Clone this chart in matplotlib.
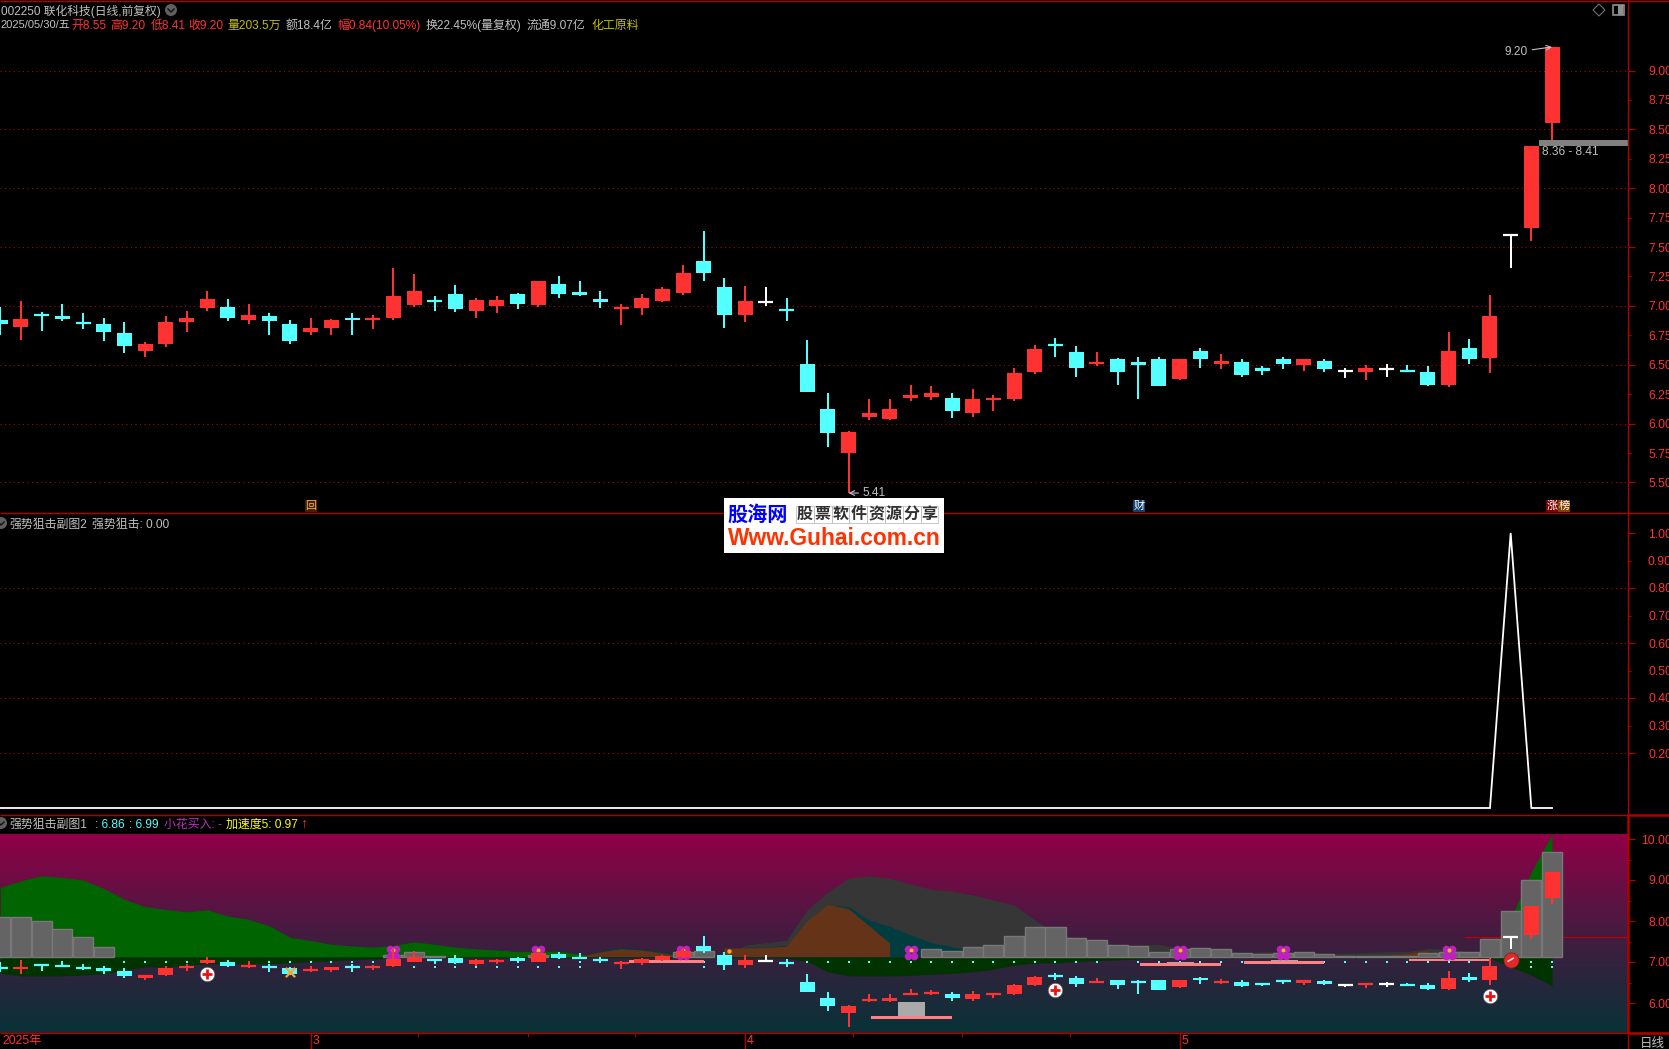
import numpy as np
import matplotlib
matplotlib.use("Agg")
import matplotlib.pyplot as plt
from matplotlib.lines import Line2D
from matplotlib.patches import Rectangle, Polygon, Ellipse

plt.rcParams['font.family'] = ['Liberation Sans', 'Noto Sans CJK SC', 'DejaVu Sans']

# ---------- data ----------
opens = [6.88,6.82,6.93,6.91,6.86,6.85,6.77,6.62,6.68,6.86,6.98,6.99,6.88,6.91,6.85,6.78,6.81,6.90,6.88,6.90,
         7.01,7.05,7.10,6.96,7.00,7.10,7.01,7.19,7.12,7.06,6.98,6.98,7.04,7.11,7.38,7.16,6.92,7.035,6.97,6.51,
         6.12,5.75,6.06,6.04,6.22,6.23,6.22,6.09,6.20,6.21,6.44,6.68,6.61,6.51,6.55,6.52,6.55,6.38,6.62,6.51,
         6.52,6.47,6.55,6.50,6.53,6.445,6.44,6.46,6.45,6.44,6.33,6.64,6.56,7.60,7.66,8.55]
closes = [6.85,6.89,6.91,6.89,6.85,6.78,6.66,6.68,6.86,6.90,7.06,6.90,6.92,6.87,6.70,6.81,6.88,6.88,6.89,7.08,
          7.13,7.03,6.97,7.05,7.05,7.02,7.21,7.10,7.09,7.03,6.99,7.07,7.14,7.28,7.28,6.92,7.04,7.035,6.96,6.27,
          5.92,5.93,6.09,6.12,6.24,6.26,6.11,6.21,6.22,6.43,6.63,6.66,6.47,6.52,6.44,6.50,6.32,6.55,6.55,6.53,
          6.41,6.45,6.51,6.55,6.46,6.445,6.47,6.46,6.44,6.33,6.62,6.55,6.91,7.60,8.36,9.20]
highs = [6.99,7.04,6.95,7.02,6.94,6.90,6.86,6.69,6.91,6.96,7.13,7.06,7.02,6.94,6.88,6.90,6.89,6.94,6.92,7.32,
         7.27,7.08,7.18,7.07,7.08,7.11,7.21,7.25,7.21,7.13,7.02,7.10,7.16,7.35,7.64,7.24,7.17,7.16,7.07,6.71,
         6.26,5.94,6.21,6.21,6.33,6.32,6.26,6.29,6.24,6.47,6.67,6.73,6.66,6.61,6.56,6.57,6.57,6.55,6.64,6.59,
         6.55,6.49,6.57,6.55,6.55,6.47,6.50,6.51,6.50,6.49,6.78,6.72,7.09,7.60,8.36,9.20]
lows = [6.75,6.71,6.79,6.87,6.80,6.70,6.60,6.57,6.65,6.78,6.96,6.87,6.85,6.75,6.68,6.75,6.75,6.75,6.80,6.88,
        6.99,6.96,6.95,6.90,6.94,6.97,6.99,7.07,7.08,6.98,6.84,6.92,7.03,7.09,7.21,6.81,6.86,7.00,6.87,6.27,
        5.80,5.41,6.03,6.03,6.19,6.20,6.05,6.06,6.11,6.19,6.42,6.57,6.40,6.49,6.33,6.21,6.32,6.37,6.47,6.46,
        6.40,6.41,6.46,6.45,6.44,6.39,6.37,6.40,6.44,6.32,6.31,6.51,6.43,7.32,7.55,8.41]

signal = [0.0]*73 + [1.0, 0.0, 0.0]

nan = float('nan')
# indicator heights above (+) / below the sub-chart zero level
green_h = [1.70,1.86,1.98,1.94,1.88,1.67,1.41,1.23,1.16,1.10,1.15,1.00,0.92,0.76,0.48,0.40,0.31,0.27,0.24,0.28,
           0.37,0.31,0.24,0.20,0.17,0.13,0.14,0.14,0.07,0.0] + [0.0]*42 + [0.05,0.93,2.08,3.0]
dark_h = [nan]*35 + [0.0,0.29,0.35,0.41,1.15,1.59,1.92,1.98,1.92,1.78,1.65,1.61,1.51,1.39,1.27,0.90,0.58,0.46,0.37,
          0.29,0.29,0.31,0.21,0.21,0.20,0.09,0.13,0.13,0.11,0.09,0.09,0.11,0.13,0.13,0.21,0.19,0.13,0.09,0.0,nan,nan]
teal_h = [nan]*28 + [0.0,0.15,0.24,0.19,0.13,0.04,0.0,0.0,0.24,0.24,0.28,0.86,1.27,1.23,0.90,0.74,0.54,0.35,0.25,
          0.17,0.09,0.0] + [nan]*26
brown_h = [nan]*28 + [0.0,0.11,0.19,0.16,0.09,0.0,nan,0.21,0.21,0.22,0.25,0.86,1.27,1.17,0.76,0.33] + [nan]*22 + \
          [0.0,0.02,0.07,0.15] + [nan]*6
under_h = [0.40,0.46,0.46,0.46,0.44,0.40,0.32,0.24,0.24,0.20,0.17,0.16,0.17,0.16,0.14,0.11,0.09,0.07,0.05,0.03] + \
          [0.02]*18 + [0.03,0.11,0.36,0.46,0.46,0.46,0.45,0.42,0.40,0.36,0.30,0.20,0.15,0.14,0.11,0.09,0.07,0.05] + \
          [0.02]*16 + [0.03,0.24,0.44,0.70]
vol_h = [0.98,0.98,0.88,0.68,0.49,0.24] + [nan]*13 + [0.05,0.12,0.02] + [nan]*4 + [0.05] + [nan]*6 + [0.11,0.15] + \
        [nan]*10 + [0.20,0.15,0.24,0.29,0.51,0.73,0.73,0.46,0.41,0.29,0.27,0.11,0.19,0.22,0.20,0.09,0.07,0.09,0.11,
                    0.07,0.03,0.02,0.02,0.03,0.09,0.11,0.11,0.44,1.12,1.88,2.56]
dots_a = list(range(6, 19)) + [28, 34] + list(range(39, 54)) + list(range(55, 72)) + [74, 75]
dots_b = list(range(20, 29)) + [34, 74, 75, 73]

# resistance-like ranges: start, end, pink level, gray top
range_start = [30.4, 42.1, 55.1, 60.1, 68.1]
range_end = [34.0, 46.0, 59.0, 64.0, 72.0]
range_level = [7.01, 5.65, 6.93, 6.98, 7.05]
range_top = [7.05, 6.02, 7.00, 7.06, 7.07]
flower_idx = [19, 26, 33, 44, 57, 62, 70]
plus_idx = [10, 51, 72]
plus_val = [6.71, 6.32, 6.17]

price_ticks = [9.00,8.75,8.50,8.25,8.00,7.75,7.50,7.25,7.00,6.75,6.50,6.25,6.00,5.75,5.50]
price_grid = [9.0,8.5,8.0,7.5,7.0,6.5,6.0,5.5]
sig_ticks = [1.0,0.9,0.8,0.7,0.6,0.5,0.4,0.3,0.2]
sig_grid = [0.8,0.6,0.4,0.2]
sub_ticks = [10.0,9.0,8.0,7.0,6.0]
sub_minor = [9.5,8.5,7.5,6.5]
month_idx = [0, 15, 36, 57]
month_lab = ['2025年', '3', '4', '5']
week_idx = [20.2, 25.5, 30.7, 41.2, 46.5, 51.7]

# ---------- style ----------
W, H = 1669, 1049
RED, CYAN = '#ff3232', '#54ffff'
LINE = '#b00000'
GRID = '#c00000'
GRAY = '#c0c0c0'
STEP = 20.69
fig = plt.figure(figsize=(W/100, H/100), dpi=100, facecolor='black')
AX_R = 1627.5

def make_ax(top, bottom):
    ax = fig.add_axes([0, 1-bottom/H, AX_R/W, (bottom-top)/H], facecolor='black')
    ax.set_xlim(-0.3/STEP, (AX_R-0.3)/STEP)
    for s in ax.spines.values():
        s.set_visible(False)
    ax.xaxis.set_visible(False)
    ax.yaxis.tick_right()
    ax.tick_params(axis='y', which='major', length=5, width=0.8, color=LINE, labelcolor=RED,
                   labelsize=8.8, pad=27)
    ax.tick_params(axis='y', which='minor', length=1.8, width=0.8, color=LINE)
    return ax

def set_labels(ax, ticks, major):
    ax.set_yticks(ticks)
    ax.set_yticklabels([f'{t:.2f}' for t in ticks])
    for t in ax.get_yticklabels():
        t.set_ha('right')
    for tick, v in zip(ax.yaxis.get_major_ticks(), ticks):
        if v not in major:
            tick.tick2line.set_markersize(1.8)

def candles(ax, z=10, thin=0.02):
    o, c, h, l = map(np.array, (opens, closes, highs, lows))
    x = np.arange(len(o))
    cols = np.array([RED if b > a else (CYAN if b < a else '#ffffff') for a, b in zip(o, c)])
    ax.vlines(x, l, h, colors=cols, linewidth=1.44, zorder=z)
    ax.bar(x, np.abs(c-o), bottom=np.minimum(o, c), width=15/STEP, color=cols, linewidth=0, zorder=z+1,
           antialiased=False)
    small = np.abs(c-o) < thin
    mid = (o+c)/2
    ax.hlines(mid[small], x[small]-7.5/STEP, x[small]+7.5/STEP, colors=cols[small], linewidth=1.6, zorder=z+1)

# ---------- main price panel ----------
ax1 = make_ax(0, 513)
ax1.set_ylim(9 - (513-70.5)/117.7, 9 + 70.5/117.7)
set_labels(ax1, price_ticks, price_grid)
ax1.hlines(price_grid, *ax1.get_xlim(), colors=GRID, linewidth=0.72, linestyle=(0, (1, 3.5)), zorder=1)
candles(ax1)
ax1.add_patch(Rectangle((1539/STEP, 8.36), (AX_R-1539)/STEP, 0.05, color='#808080', lw=0, zorder=12))
ax1.text(1542/STEP, 8.305, '8.36 - 8.41', color=GRAY, fontsize=8.6, va='center', zorder=13)
ax1.annotate('9.20', xy=(75, 9.20), xytext=(-24, -5), textcoords='offset pixels', color=GRAY, fontsize=8.6,
             ha='right', va='center', zorder=13,
             arrowprops=dict(arrowstyle='->', color=GRAY, lw=0.8, shrinkA=1, shrinkB=0))
ax1.annotate('5.41', xy=(41, 5.41), xytext=(14, 0), textcoords='offset pixels', color=GRAY, fontsize=8.6,
             ha='left', va='center', zorder=13,
             arrowprops=dict(arrowstyle='->', color=GRAY, lw=0.8, shrinkA=1, shrinkB=0))

# ---------- signal panel ----------
ax2 = make_ax(513, 815)
ax2.set_ylim(-7/275, (808-513)/275)
set_labels(ax2, sig_ticks, sig_grid + [1.0])
ax2.hlines(sig_grid, *ax2.get_xlim(), colors=GRID, linewidth=0.72, linestyle=(0, (1, 3.5)), zorder=1)
ax2.plot(np.arange(len(signal)), signal, color='white', lw=1.3, zorder=5, solid_joinstyle='miter')

# ---------- indicator panel ----------
ax3 = make_ax(834, 1033)
ax3.set_ylim(7 + (962-1033)/41, 7 + (962-834)/41)
xl = ax3.get_xlim()
set_labels(ax3, sub_ticks, sub_ticks)
ax3.set_yticks(sub_minor, minor=True)
stops = np.array([[145, 0, 72], [75, 25, 65], [42, 37, 60], [8, 50, 55]]) / 255
fr = np.linspace(0, 1, 200)
grad = np.stack([np.interp(fr, [0, 0.45, 0.72, 1], stops[:, k]) for k in range(3)], axis=1)[:, None, :]
ax3.imshow(grad, extent=[xl[0], xl[1], ax3.get_ylim()[0], ax3.get_ylim()[1]], aspect='auto', zorder=0)
ax3.set_xlim(xl)
base = 7.122
xs = np.arange(76)
ax3.fill_between(xs, base, base+np.array(green_h), color='#006400', lw=0, zorder=1)
ax3.fill_between(xs, base, base+np.array(dark_h), color='#363636', lw=0, zorder=2)
ax3.fill_between(xs, base, base+np.array(teal_h), color='#003c40', lw=0, zorder=3)
ax3.fill_between(xs, base, base+np.array(brown_h), color='#653318', lw=0, zorder=4)
ax3.fill_between(xs, base, base-np.array(under_h), color='#003300', lw=0, zorder=4)
ax3.hlines(7.60, 70.8, xl[1], color='#c00000', lw=0.8, zorder=4.5)
ax3.bar(xs, np.array(vol_h), bottom=base, width=0.97, color='#646464', edgecolor='#787878', linewidth=1.0, zorder=5)
ax3.scatter(dots_a, [base-0.13]*len(dots_a), s=2, marker='s', color=CYAN, lw=0, zorder=6)
ax3.scatter(dots_b, [base-0.25]*len(dots_b), s=2, marker='s', color=CYAN, lw=0, zorder=6)
for a, b, lev, top in zip(range_start, range_end, range_level, range_top):
    th = 1.4*2/41
    third = (b-a)/3
    ax3.add_patch(Rectangle((a+third, lev), third, top-lev, color='#aaaaaa', lw=0, zorder=6))
    ax3.add_patch(Rectangle((a, lev-th/2), b-a, th, color='#ff8080', lw=0, zorder=6))
dx, dy = 3/STEP, 3.2/41
fy = 7.236
for i in flower_idx:
    ax3.scatter([i-dx, i+dx, i-dx, i+dx], [fy+dy, fy+dy, fy-dy, fy-dy], s=30, color='#c020c0', lw=0, zorder=7)
    ax3.scatter([i], [fy+0.05], s=8, color='#ffc000', lw=0, zorder=7.5)
candles(ax3, z=8, thin=0.07)
ax3.scatter(plus_idx, plus_val, s=110, color='white', edgecolor='#505050', lw=0.5, zorder=12)
ax3.scatter(plus_idx, plus_val, s=55, marker='+', color='#f01010', lw=2, zorder=13)
ax3.scatter([73], [7.05], s=120, color='#e02828', edgecolor='#702020', lw=0.5, zorder=12)
ax3.plot([72.88, 73.12], [7.02, 7.09], color='#ffd0d0', lw=1.2, zorder=13)
ax3.scatter([14], [6.76], s=45, marker='x', color='#ffa030', lw=1.6, zorder=9)
ax3.scatter([35.2], [7.26], s=10, color='#ffa030', lw=0, zorder=12)

for i, lab in zip(month_idx, month_lab):
    ax3.annotate(lab, xy=(i, 0), xycoords=ax3.get_xaxis_transform(), xytext=(2, -8),
                 textcoords='offset pixels', color=RED, fontsize=8.8, va='center', annotation_clip=False)
for m in month_idx[1:]:
    ax3.plot([m, m], [0, -16/199], transform=ax3.get_xaxis_transform(), color=LINE, lw=1, clip_on=False)
for m in week_idx:
    ax3.plot([m, m], [0, -2.5/199], transform=ax3.get_xaxis_transform(), color=LINE, lw=0.8, clip_on=False)

# ---------- frame ----------
def fline(x0, y0, x1, y1, lw=1.0, c=LINE, z=9):
    fig.add_artist(Line2D([x0/W, x1/W], [1-y0/H, 1-y1/H], color=c, lw=lw, zorder=z, solid_capstyle='butt'))

fline(0, 0.7, W, 0.7, 1.0)
fline(0, 513.5, W, 513.5, 1.0)
fline(0, 814.5, 1628, 814.5, 1.0)
fline(1628, 814.5, W, 814.5, 1.8)
fline(0, 1033, W, 1033, 1.0)
fline(1628, 1032.5, W, 1032.5, 1.8)
fline(1627.5, 0, 1627.5, 814, 1.0)
fline(1627.5, 814, 1627.5, 1033, 1.8)
fline(1627.5, 1033, 1627.5, 1049, 1.0)

# ---------- texts ----------
def px(x, y):
    return x/W, 1-y/H

def label(x, y, s, color=GRAY, size=8.6, ha='left', **kw):
    return fig.text(*px(x, y+4.5), s, color=color, fontsize=size, ha=ha, va='baseline', zorder=15, **kw)

label(0.5, 10, '002250 联化科技(日线,前复权)', size=8.5)
label(0.5, 24, '2025/05/30/五', size=8.0)
for x, s, c in [(71.5, '开8.55', RED), (110.5, '高9.20', RED), (150.5, '低8.41', RED), (188.5, '收9.20', RED),
                (227.5, '量203.5万', '#c0c000'), (286, '额18.4亿', GRAY), (337, '幅0.84(10.05%)', RED),
                (426, '换22.45%(量复权)', GRAY), (527, '流通9.07亿', GRAY), (591, '化工原料', '#c0c000')]:
    label(x, 24, s, c)
label(9, 523, '强势狙击副图2')
label(92, 523, '强势狙击: 0.00')
label(9, 823, '强势狙击副图1')
label(95, 823, ': 6.86', CYAN)
label(129, 823, ': 6.99', CYAN)
label(164, 823, '小花买入: -', '#c030c0')
label(226, 823, '加速度5: 0.97', '#ffff00')
label(300, 823, '↑', RED, 10, weight='bold')
label(1640, 1042, '日线', GRAY, 9)

fig.add_artist(Polygon([px(1599, 4), px(1605, 10), px(1599, 16), px(1593, 10)], closed=True, fill=False,
                       edgecolor='#707070', lw=0.8, transform=fig.transFigure, zorder=14))
fig.add_artist(Rectangle(px(1613, 15), 11/W, 10/H, fill=False, edgecolor='#909090', lw=1.2,
                         transform=fig.transFigure, zorder=14))
fig.add_artist(Rectangle(px(1618, 15), 5/W, 10/H, color='#909090', lw=0, transform=fig.transFigure, zorder=14))
for (cx, cy) in [(171, 10), (1, 523), (1, 823)]:
    fig.add_artist(Ellipse(px(cx, cy), 12/W, 12/H, color='#606060', lw=0, transform=fig.transFigure, zorder=14))
    fig.add_artist(Line2D([(cx-3)/W, cx/W, (cx+3)/W], [1-(cy-1)/H, 1-(cy+2)/H, 1-(cy-1)/H], color='#101010', lw=1,
                          zorder=15))

for x, s, fc, tc in [(311, '回', '#402000', '#ffb040'), (1139, '财', '#103f70', '#ffffff'),
                     (1552, '涨', '#800000', '#ffffff'), (1564, '榜', '#804000', '#ffffff')]:
    fig.add_artist(Rectangle(px(x-6, 512), 12/W, 12.5/H, color=fc, lw=0, transform=fig.transFigure, zorder=14))
    fig.text(*px(x, 506), s, color=tc, fontsize=8, ha='center', va='center', zorder=15)

# ---------- watermark ----------
fig.add_artist(Rectangle(px(724, 553), 220/W, 55/H, color='white', lw=0, transform=fig.transFigure, zorder=20))
fig.text(*px(758, 515), '股海网', color='#0000ff', fontsize=14.5, weight='bold', ha='center', va='center', zorder=21)
for k, ch in enumerate('股票软件资源分享'):
    cx = 796 + 17.8*k
    fig.add_artist(Rectangle(px(cx, 523), 17.8/W, 17/H, fill=False, edgecolor='#c0c0c0', lw=0.6,
                             transform=fig.transFigure, zorder=21))
    fig.text(*px(cx+8.9, 514.5), ch, color='#303030', fontsize=11.5, weight='bold', ha='center', va='center', zorder=22)
fig.text(*px(834, 538.5), 'Www.Guhai.com.cn', color='#ff3300', fontsize=16.4, weight='bold', ha='center', va='center',
         family='Liberation Sans', zorder=21)

fig.savefig('out.png', dpi=100, facecolor='black')
